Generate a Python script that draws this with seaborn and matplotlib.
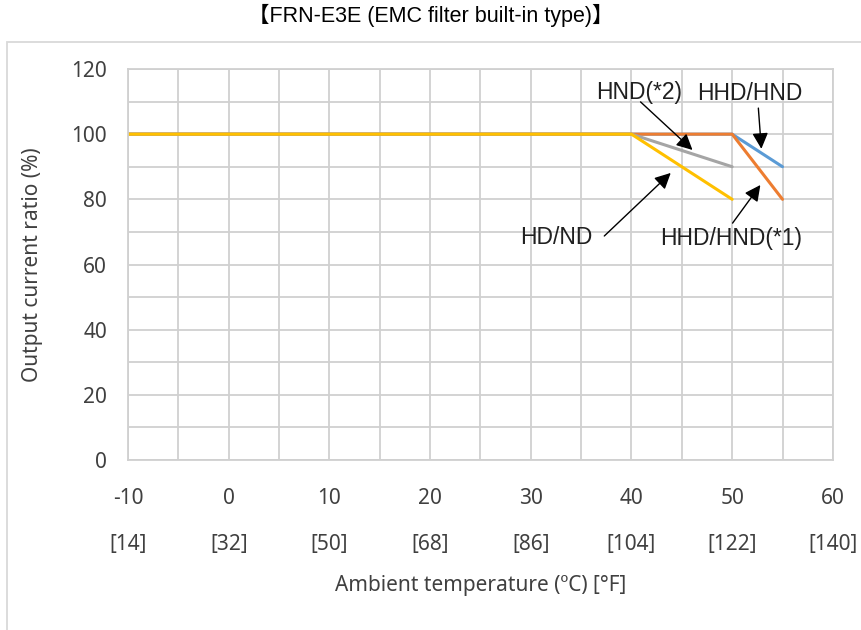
import pandas as pd
import seaborn as sns
import matplotlib.pyplot as plt
from matplotlib.patches import Rectangle
from matplotlib.ticker import MultipleLocator
import matplotlib.transforms as mtransforms

# derating curves
series_names = ['HHD/HND', 'HHD/HND(*1)', 'HND(*2)', 'HD/ND']
hhd_hnd_x = [-10, 50, 55]
hhd_hnd_y = [100, 100, 90]
hhd_hnd1_x = [-10, 50, 55]
hhd_hnd1_y = [100, 100, 80]
hnd2_x = [-10, 40, 50]
hnd2_y = [100, 100, 90]
hd_nd_x = [-10, 40, 50]
hd_nd_y = [100, 100, 80]

celsius_ticks = [-10, 0, 10, 20, 30, 40, 50, 60]
fahrenheit_labels = ['[14]', '[32]', '[50]', '[68]', '[86]', '[104]', '[122]', '[140]']
y_ticks = [0, 20, 40, 60, 80, 100, 120]

# callout labels: text position, arrow tail, arrow head
label_pos = {'HND(*2)': (40.75, 112.9), 'HHD/HND': (51.8, 112.6),
             'HD/ND': (32.55, 68.4), 'HHD/HND(*1)': (49.85, 68.1)}
arrow_tail = {'HND(*2)': (40.9, 109.9), 'HHD/HND': (52.6, 108.0),
              'HD/ND': (37.3, 68.75), 'HHD/HND(*1)': (50.04, 72.7)}
arrow_head = {'HND(*2)': (46.06, 95.15), 'HHD/HND': (52.9, 95.5),
              'HD/ND': (43.9, 88.1), 'HHD/HND(*1)': (52.8, 84.4)}

df = pd.concat([
    pd.DataFrame({'temp': hhd_hnd_x, 'ratio': hhd_hnd_y, 'type': 'HHD/HND'}),
    pd.DataFrame({'temp': hhd_hnd1_x, 'ratio': hhd_hnd1_y, 'type': 'HHD/HND(*1)'}),
    pd.DataFrame({'temp': hnd2_x, 'ratio': hnd2_y, 'type': 'HND(*2)'}),
    pd.DataFrame({'temp': hd_nd_x, 'ratio': hd_nd_y, 'type': 'HD/ND'}),
], ignore_index=True)

sns.set_style('white')
plt.rcParams['font.family'] = ['Noto Sans', 'DejaVu Sans']
plt.rcParams['axes.unicode_minus'] = False

colors = ['#5B9BD5', '#ED7D31', '#A5A5A5', '#FFC000']
grid_c = '#D0D0D0'
txt_c = '#404040'
fs = 15

fig = plt.figure(figsize=(8.62, 6.3), dpi=100)
ax = fig.add_axes([0.1485, 0.2698, 0.8177, 0.6207])

sns.lineplot(data=df, x='temp', y='ratio', hue='type', hue_order=series_names,
             palette=colors, linewidth=2.2, legend=False, ax=ax)

ax.set_xlim(-10, 60)
ax.set_ylim(0, 120)
ax.set_xticks(celsius_ticks)
ax.set_yticks(y_ticks)
ax.xaxis.set_minor_locator(MultipleLocator(5))
ax.yaxis.set_minor_locator(MultipleLocator(10))
ax.grid(True, which='both', color=grid_c, linewidth=1.3)
ax.set_axisbelow(True)
for s in ax.spines.values():
    s.set_color(grid_c)
    s.set_linewidth(1.3)
ax.tick_params(which='both', length=0, labelsize=fs, colors=txt_c)
ax.tick_params(axis='x', pad=20)
ax.tick_params(axis='y', pad=15)

# fahrenheit row under the celsius ticks
trans = mtransforms.blended_transform_factory(ax.transData, ax.transAxes)
for c, f in zip(celsius_ticks, fahrenheit_labels):
    ax.text(c, -0.215, f, transform=trans, ha='center', va='center',
            fontsize=fs, color=txt_c)

ax.set_xlabel('Ambient temperature (ºC) [°F]', fontsize=fs, color=txt_c)
ax.xaxis.set_label_coords(0.5, -0.294)
ax.set_ylabel('Output current ratio (%)', fontsize=fs, color=txt_c)
ax.yaxis.set_label_coords(-0.121, 0.5)

for name in series_names:
    ax.text(*label_pos[name], name, ha='center', va='center', fontsize=16.5,
            family=['Liberation Sans', 'DejaVu Sans'], color='#202020')
    ax.annotate('', xy=arrow_head[name], xytext=arrow_tail[name],
                arrowprops=dict(arrowstyle='-|>,head_length=0.6,head_width=0.3',
                                color='black', lw=1, mutation_scale=16,
                                shrinkA=0, shrinkB=0))

fig.text(0.5, 0.976, '【FRN-E3E (EMC filter built-in type)】', ha='center', va='center',
         fontsize=15.5, family=['Liberation Sans', 'Noto Sans CJK JP'], color='black')

# outer chart frame
fig.patches.append(Rectangle((7 / 862, -0.1), 1.2, (630 - 42) / 630 + 0.1,
                             transform=fig.transFigure, fill=False,
                             edgecolor='#D9D9D9', linewidth=1.3))

fig.savefig('out.png', dpi=100)
